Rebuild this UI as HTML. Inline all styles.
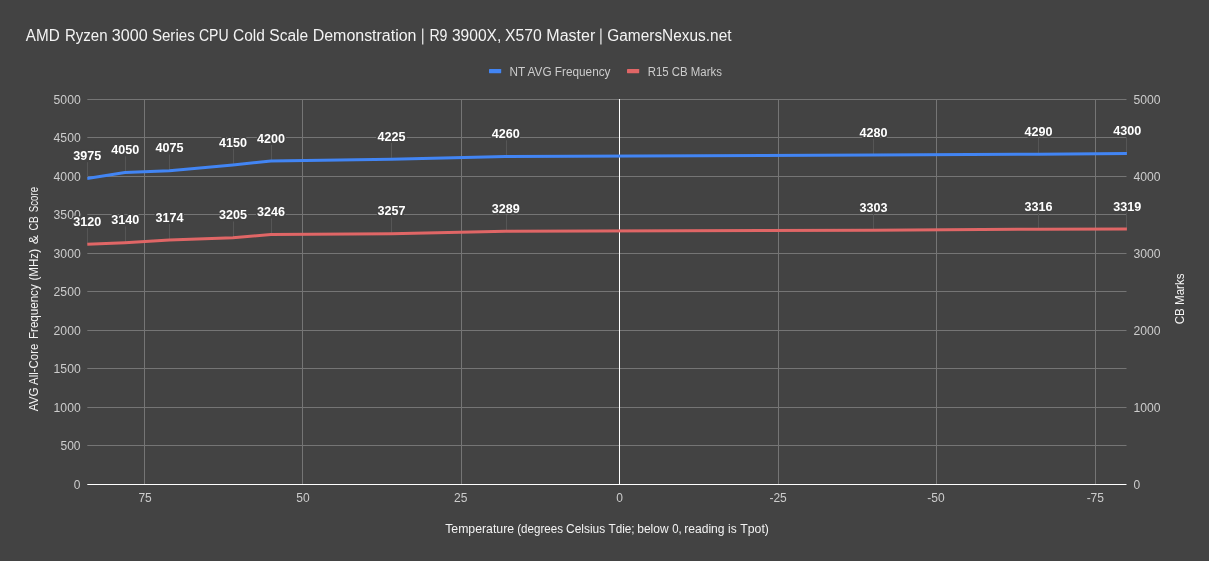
<!DOCTYPE html><html><head><meta charset="utf-8"><style>html,body{margin:0;padding:0;background:#434343;}svg{display:block;will-change:transform;font-family:"Liberation Sans",sans-serif;}</style></head><body>
<svg width="1209" height="561" viewBox="0 0 1209 561">
<rect width="1209" height="561" fill="#434343"/>
<defs><clipPath id="cp"><rect x="87.3" y="99" width="1039.6000000000001" height="386"/></clipPath></defs>
<text x="25.8" y="41" font-size="16" fill="#f3f3f3" textLength="33.9" lengthAdjust="spacingAndGlyphs">AMD</text>
<text x="64.9" y="41" font-size="16" fill="#f3f3f3" textLength="42.6" lengthAdjust="spacingAndGlyphs">Ryzen</text>
<text x="111.8" y="41" font-size="16" fill="#f3f3f3" textLength="35.8" lengthAdjust="spacingAndGlyphs">3000</text>
<text x="151.9" y="41" font-size="16" fill="#f3f3f3" textLength="42.8" lengthAdjust="spacingAndGlyphs">Series</text>
<text x="198.9" y="41" font-size="16" fill="#f3f3f3" textLength="29.7" lengthAdjust="spacingAndGlyphs">CPU</text>
<text x="233.0" y="41" font-size="16" fill="#f3f3f3" textLength="31.8" lengthAdjust="spacingAndGlyphs">Cold</text>
<text x="269.3" y="41" font-size="16" fill="#f3f3f3" textLength="38.9" lengthAdjust="spacingAndGlyphs">Scale</text>
<text x="312.7" y="41" font-size="16" fill="#f3f3f3" textLength="103.8" lengthAdjust="spacingAndGlyphs">Demonstration</text>
<rect x="422.0" y="28.5" width="1.4" height="16.0" fill="#f3f3f3" fill-opacity="0.85"/>
<text x="429.4" y="41" font-size="16" fill="#f3f3f3" textLength="18.1" lengthAdjust="spacingAndGlyphs">R9</text>
<text x="451.9" y="41" font-size="16" fill="#f3f3f3" textLength="49.4" lengthAdjust="spacingAndGlyphs">3900X,</text>
<text x="504.9" y="41" font-size="16" fill="#f3f3f3" textLength="36.8" lengthAdjust="spacingAndGlyphs">X570</text>
<text x="546.3" y="41" font-size="16" fill="#f3f3f3" textLength="49.0" lengthAdjust="spacingAndGlyphs">Master</text>
<rect x="600.2" y="28.5" width="1.4" height="16.0" fill="#f3f3f3" fill-opacity="0.85"/>
<text x="607.3" y="41" font-size="16" fill="#f3f3f3" textLength="124.2" lengthAdjust="spacingAndGlyphs">GamersNexus.net</text>
<rect x="489" y="69" width="12.2" height="4.2" rx="0.6" fill="#4285f4"/>
<text x="509.5" y="76" font-size="12" fill="#cccccc" textLength="101" lengthAdjust="spacingAndGlyphs">NT AVG Frequency</text>
<rect x="627" y="69" width="12.2" height="4.2" rx="0.6" fill="#e06666"/>
<text x="647.7" y="76" font-size="12" fill="#cccccc" textLength="74.2" lengthAdjust="spacingAndGlyphs">R15 CB Marks</text>
<rect x="87.3" y="445" width="1039.2" height="1" fill="#757575"/>
<rect x="87.3" y="407" width="1039.2" height="1" fill="#757575"/>
<rect x="87.3" y="368" width="1039.2" height="1" fill="#757575"/>
<rect x="87.3" y="330" width="1039.2" height="1" fill="#757575"/>
<rect x="87.3" y="291" width="1039.2" height="1" fill="#757575"/>
<rect x="87.3" y="253" width="1039.2" height="1" fill="#757575"/>
<rect x="87.3" y="214" width="1039.2" height="1" fill="#757575"/>
<rect x="87.3" y="176" width="1039.2" height="1" fill="#757575"/>
<rect x="87.3" y="137" width="1039.2" height="1" fill="#757575"/>
<rect x="87.3" y="99" width="1039.2" height="1" fill="#757575"/>
<rect x="144" y="99" width="1" height="385" fill="#757575"/>
<rect x="302" y="99" width="1" height="385" fill="#757575"/>
<rect x="461" y="99" width="1" height="385" fill="#757575"/>
<rect x="778" y="99" width="1" height="385" fill="#757575"/>
<rect x="936" y="99" width="1" height="385" fill="#757575"/>
<rect x="1095" y="99" width="1" height="385" fill="#757575"/>
<rect x="87.3" y="484" width="1039.2" height="1" fill="#ffffff"/>
<rect x="619" y="99" width="1" height="386" fill="#ffffff"/>
<text x="80.5" y="488.7" font-size="12" fill="#cccccc" text-anchor="end">0</text>
<text x="80.5" y="450.2" font-size="12" fill="#cccccc" text-anchor="end">500</text>
<text x="80.7" y="411.7" font-size="12" fill="#cccccc" text-anchor="end" textLength="27.1" lengthAdjust="spacingAndGlyphs">1000</text>
<text x="80.7" y="373.2" font-size="12" fill="#cccccc" text-anchor="end" textLength="27.1" lengthAdjust="spacingAndGlyphs">1500</text>
<text x="80.7" y="334.7" font-size="12" fill="#cccccc" text-anchor="end" textLength="27.1" lengthAdjust="spacingAndGlyphs">2000</text>
<text x="80.7" y="296.2" font-size="12" fill="#cccccc" text-anchor="end" textLength="27.1" lengthAdjust="spacingAndGlyphs">2500</text>
<text x="80.7" y="257.7" font-size="12" fill="#cccccc" text-anchor="end" textLength="27.1" lengthAdjust="spacingAndGlyphs">3000</text>
<text x="80.7" y="219.2" font-size="12" fill="#cccccc" text-anchor="end" textLength="27.1" lengthAdjust="spacingAndGlyphs">3500</text>
<text x="80.7" y="180.7" font-size="12" fill="#cccccc" text-anchor="end" textLength="27.1" lengthAdjust="spacingAndGlyphs">4000</text>
<text x="80.7" y="142.2" font-size="12" fill="#cccccc" text-anchor="end" textLength="27.1" lengthAdjust="spacingAndGlyphs">4500</text>
<text x="80.7" y="103.7" font-size="12" fill="#cccccc" text-anchor="end" textLength="27.1" lengthAdjust="spacingAndGlyphs">5000</text>
<text x="1133.4" y="488.7" font-size="12" fill="#cccccc">0</text>
<text x="1133.4" y="411.7" font-size="12" fill="#cccccc" textLength="27.1" lengthAdjust="spacingAndGlyphs">1000</text>
<text x="1133.4" y="334.7" font-size="12" fill="#cccccc" textLength="27.1" lengthAdjust="spacingAndGlyphs">2000</text>
<text x="1133.4" y="257.7" font-size="12" fill="#cccccc" textLength="27.1" lengthAdjust="spacingAndGlyphs">3000</text>
<text x="1133.4" y="180.7" font-size="12" fill="#cccccc" textLength="27.1" lengthAdjust="spacingAndGlyphs">4000</text>
<text x="1133.4" y="103.7" font-size="12" fill="#cccccc" textLength="27.1" lengthAdjust="spacingAndGlyphs">5000</text>
<text x="145.1" y="502" font-size="12" fill="#cccccc" text-anchor="middle">75</text>
<text x="303.0" y="502" font-size="12" fill="#cccccc" text-anchor="middle">50</text>
<text x="460.8" y="502" font-size="12" fill="#cccccc" text-anchor="middle">25</text>
<text x="619.5" y="502" font-size="12" fill="#cccccc" text-anchor="middle">0</text>
<text x="778.1" y="502" font-size="12" fill="#cccccc" text-anchor="middle">-25</text>
<text x="936.0" y="502" font-size="12" fill="#cccccc" text-anchor="middle">-50</text>
<text x="1095.3" y="502" font-size="12" fill="#cccccc" text-anchor="middle">-75</text>
<text x="445.2" y="532.9" font-size="12" fill="#f3f3f3" textLength="68.9" lengthAdjust="spacingAndGlyphs">Temperature</text>
<text x="517.2" y="532.9" font-size="12" fill="#f3f3f3" textLength="45.8" lengthAdjust="spacingAndGlyphs">(degrees</text>
<text x="566.1" y="532.9" font-size="12" fill="#f3f3f3" textLength="39.1" lengthAdjust="spacingAndGlyphs">Celsius</text>
<text x="608.5" y="532.9" font-size="12" fill="#f3f3f3" textLength="26.1" lengthAdjust="spacingAndGlyphs">Tdie;</text>
<text x="637.3" y="532.9" font-size="12" fill="#f3f3f3" textLength="31.3" lengthAdjust="spacingAndGlyphs">below</text>
<text x="672.2" y="532.9" font-size="12" fill="#f3f3f3" textLength="9.5" lengthAdjust="spacingAndGlyphs">0,</text>
<text x="684.2" y="532.9" font-size="12" fill="#f3f3f3" textLength="40.4" lengthAdjust="spacingAndGlyphs">reading</text>
<text x="728.0" y="532.9" font-size="12" fill="#f3f3f3" textLength="8.6" lengthAdjust="spacingAndGlyphs">is</text>
<text x="740.3" y="532.9" font-size="12" fill="#f3f3f3" textLength="28.6" lengthAdjust="spacingAndGlyphs">Tpot)</text>
<g transform="translate(38.4,411.2) rotate(-90)">
<text x="0.0" y="0" font-size="12" fill="#f3f3f3" textLength="23.9" lengthAdjust="spacingAndGlyphs">AVG</text>
<text x="26.3" y="0" font-size="12" fill="#f3f3f3" textLength="41.2" lengthAdjust="spacingAndGlyphs">All-Core</text>
<text x="72.2" y="0" font-size="12" fill="#f3f3f3" textLength="54.7" lengthAdjust="spacingAndGlyphs">Frequency</text>
<text x="130.6" y="0" font-size="12" fill="#f3f3f3" textLength="31.6" lengthAdjust="spacingAndGlyphs">(MHz)</text>
<text x="166.9" y="0" font-size="12" fill="#f3f3f3" textLength="9.2" lengthAdjust="spacingAndGlyphs">&amp;</text>
<text x="180.8" y="0" font-size="12" fill="#f3f3f3" textLength="14.1" lengthAdjust="spacingAndGlyphs">CB</text>
<text x="199.0" y="0" font-size="12" fill="#f3f3f3" textLength="25.2" lengthAdjust="spacingAndGlyphs">Score</text>
</g>
<text transform="translate(1184.2,324.3) rotate(-90)" font-size="12" fill="#f3f3f3" textLength="50.8" lengthAdjust="spacingAndGlyphs">CB Marks</text>
<rect x="87" y="162.2" width="1" height="16.2" fill="#565656"/>
<rect x="125" y="156.4" width="1" height="16.2" fill="#565656"/>
<rect x="169" y="154.5" width="1" height="16.2" fill="#565656"/>
<rect x="233" y="148.8" width="1" height="16.2" fill="#565656"/>
<rect x="271" y="144.9" width="1" height="16.2" fill="#565656"/>
<rect x="391" y="143.0" width="1" height="16.2" fill="#565656"/>
<rect x="506" y="140.3" width="1" height="16.2" fill="#565656"/>
<rect x="873" y="138.7" width="1" height="16.2" fill="#565656"/>
<rect x="1038" y="138.0" width="1" height="16.2" fill="#565656"/>
<rect x="1126" y="137.2" width="1" height="16.2" fill="#565656"/>
<rect x="87" y="228.1" width="1" height="16.2" fill="#565656"/>
<rect x="125" y="226.5" width="1" height="16.2" fill="#565656"/>
<rect x="169" y="223.9" width="1" height="16.2" fill="#565656"/>
<rect x="233" y="221.5" width="1" height="16.2" fill="#565656"/>
<rect x="271" y="218.4" width="1" height="16.2" fill="#565656"/>
<rect x="391" y="217.5" width="1" height="16.2" fill="#565656"/>
<rect x="506" y="215.0" width="1" height="16.2" fill="#565656"/>
<rect x="873" y="214.0" width="1" height="16.2" fill="#565656"/>
<rect x="1038" y="213.0" width="1" height="16.2" fill="#565656"/>
<rect x="1126" y="212.7" width="1" height="16.2" fill="#565656"/>
<polyline points="87.0,178.4 125.0,172.6 169.4,170.7 232.9,164.9 270.9,161.1 391.4,159.2 505.5,156.5 873.3,154.9 1038.2,154.2 1127.0,153.4" fill="none" stroke="#4285f4" stroke-width="3" stroke-linejoin="round" clip-path="url(#cp)"/>
<polyline points="87.0,244.3 125.0,242.7 169.4,240.1 232.9,237.7 270.9,234.6 391.4,233.7 505.5,231.2 873.3,230.2 1038.2,229.2 1127.0,228.9" fill="none" stroke="#e06666" stroke-width="3" stroke-linejoin="round" clip-path="url(#cp)"/>
<text x="87.2" y="160" font-size="12" font-weight="bold" fill="#ffffff" stroke="#434343" stroke-width="3" stroke-linejoin="round" paint-order="stroke" text-anchor="middle" textLength="28" lengthAdjust="spacingAndGlyphs">3975</text>
<text x="125.2" y="154" font-size="12" font-weight="bold" fill="#ffffff" stroke="#434343" stroke-width="3" stroke-linejoin="round" paint-order="stroke" text-anchor="middle" textLength="28" lengthAdjust="spacingAndGlyphs">4050</text>
<text x="169.6" y="152" font-size="12" font-weight="bold" fill="#ffffff" stroke="#434343" stroke-width="3" stroke-linejoin="round" paint-order="stroke" text-anchor="middle" textLength="28" lengthAdjust="spacingAndGlyphs">4075</text>
<text x="233.1" y="147" font-size="12" font-weight="bold" fill="#ffffff" stroke="#434343" stroke-width="3" stroke-linejoin="round" paint-order="stroke" text-anchor="middle" textLength="28" lengthAdjust="spacingAndGlyphs">4150</text>
<text x="271.1" y="143" font-size="12" font-weight="bold" fill="#ffffff" stroke="#434343" stroke-width="3" stroke-linejoin="round" paint-order="stroke" text-anchor="middle" textLength="28" lengthAdjust="spacingAndGlyphs">4200</text>
<text x="391.6" y="141" font-size="12" font-weight="bold" fill="#ffffff" stroke="#434343" stroke-width="3" stroke-linejoin="round" paint-order="stroke" text-anchor="middle" textLength="28" lengthAdjust="spacingAndGlyphs">4225</text>
<text x="505.7" y="138" font-size="12" font-weight="bold" fill="#ffffff" stroke="#434343" stroke-width="3" stroke-linejoin="round" paint-order="stroke" text-anchor="middle" textLength="28" lengthAdjust="spacingAndGlyphs">4260</text>
<text x="873.5" y="137" font-size="12" font-weight="bold" fill="#ffffff" stroke="#434343" stroke-width="3" stroke-linejoin="round" paint-order="stroke" text-anchor="middle" textLength="28" lengthAdjust="spacingAndGlyphs">4280</text>
<text x="1038.4" y="136" font-size="12" font-weight="bold" fill="#ffffff" stroke="#434343" stroke-width="3" stroke-linejoin="round" paint-order="stroke" text-anchor="middle" textLength="28" lengthAdjust="spacingAndGlyphs">4290</text>
<text x="1127.2" y="135" font-size="12" font-weight="bold" fill="#ffffff" stroke="#434343" stroke-width="3" stroke-linejoin="round" paint-order="stroke" text-anchor="middle" textLength="28" lengthAdjust="spacingAndGlyphs">4300</text>
<text x="87.2" y="226" font-size="12" font-weight="bold" fill="#ffffff" stroke="#434343" stroke-width="3" stroke-linejoin="round" paint-order="stroke" text-anchor="middle" textLength="28" lengthAdjust="spacingAndGlyphs">3120</text>
<text x="125.2" y="224" font-size="12" font-weight="bold" fill="#ffffff" stroke="#434343" stroke-width="3" stroke-linejoin="round" paint-order="stroke" text-anchor="middle" textLength="28" lengthAdjust="spacingAndGlyphs">3140</text>
<text x="169.6" y="222" font-size="12" font-weight="bold" fill="#ffffff" stroke="#434343" stroke-width="3" stroke-linejoin="round" paint-order="stroke" text-anchor="middle" textLength="28" lengthAdjust="spacingAndGlyphs">3174</text>
<text x="233.1" y="219" font-size="12" font-weight="bold" fill="#ffffff" stroke="#434343" stroke-width="3" stroke-linejoin="round" paint-order="stroke" text-anchor="middle" textLength="28" lengthAdjust="spacingAndGlyphs">3205</text>
<text x="271.1" y="216" font-size="12" font-weight="bold" fill="#ffffff" stroke="#434343" stroke-width="3" stroke-linejoin="round" paint-order="stroke" text-anchor="middle" textLength="28" lengthAdjust="spacingAndGlyphs">3246</text>
<text x="391.6" y="215" font-size="12" font-weight="bold" fill="#ffffff" stroke="#434343" stroke-width="3" stroke-linejoin="round" paint-order="stroke" text-anchor="middle" textLength="28" lengthAdjust="spacingAndGlyphs">3257</text>
<text x="505.7" y="213" font-size="12" font-weight="bold" fill="#ffffff" stroke="#434343" stroke-width="3" stroke-linejoin="round" paint-order="stroke" text-anchor="middle" textLength="28" lengthAdjust="spacingAndGlyphs">3289</text>
<text x="873.5" y="212" font-size="12" font-weight="bold" fill="#ffffff" stroke="#434343" stroke-width="3" stroke-linejoin="round" paint-order="stroke" text-anchor="middle" textLength="28" lengthAdjust="spacingAndGlyphs">3303</text>
<text x="1038.4" y="211" font-size="12" font-weight="bold" fill="#ffffff" stroke="#434343" stroke-width="3" stroke-linejoin="round" paint-order="stroke" text-anchor="middle" textLength="28" lengthAdjust="spacingAndGlyphs">3316</text>
<text x="1127.2" y="211" font-size="12" font-weight="bold" fill="#ffffff" stroke="#434343" stroke-width="3" stroke-linejoin="round" paint-order="stroke" text-anchor="middle" textLength="28" lengthAdjust="spacingAndGlyphs">3319</text>
</svg></body></html>
